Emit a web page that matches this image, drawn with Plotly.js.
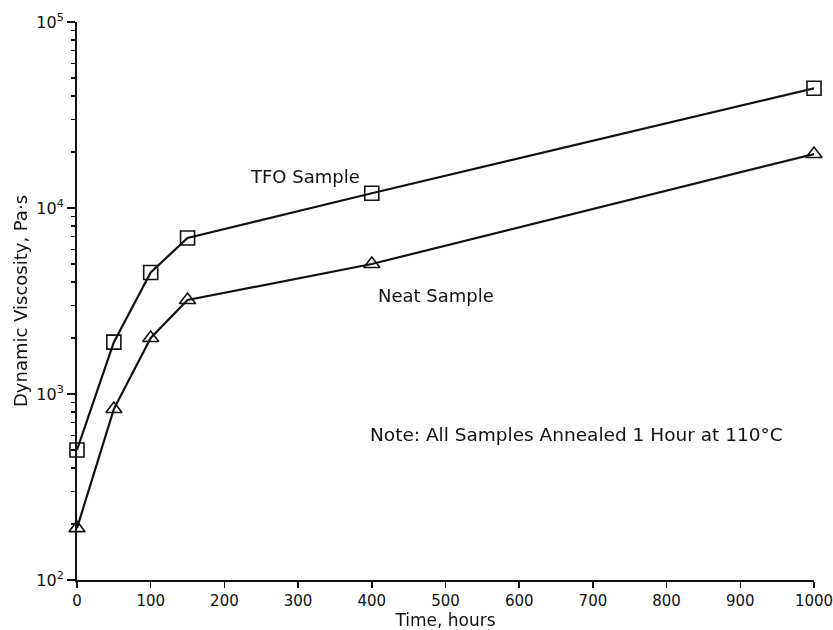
<!DOCTYPE html>
<html><head><meta charset="utf-8">
<script src="https://cdn.plot.ly/plotly-3.0.1.min.js"></script>
<style>html,body{margin:0;padding:0;background:#fff;}#c{width:833px;height:630px;}</style>
</head><body><div id="c"></div>
<script>
const timeHours = [0, 50, 100, 150, 400, 1000];
const tfoViscosity = [500, 1900, 4500, 6900, 12000, 44000];
const neatViscosity = [190, 830, 2000, 3200, 5000, 19500];
const yTickVals = [100, 1000, 10000, 100000];
const yTickText = ['10<sup>2</sup>', '10<sup>3</sup>', '10<sup>4</sup>', '10<sup>5</sup>'];
const minorDigits = [2, 3, 4, 5, 6, 7, 8, 9];
const decades = [100, 1000, 10000];

const minorVals = [];
decades.forEach(d => minorDigits.forEach(m => minorVals.push(d * m)));

const font = {family: 'DejaVu Sans, sans-serif', color: '#111'};
const traces = [
  {x: timeHours, y: tfoViscosity, mode: 'lines+markers', name: 'TFO Sample', cliponaxis: false,
   line: {color: '#111', width: 2.2},
   marker: {symbol: 'square-open', size: 14, color: '#111', line: {width: 1.6, color: '#111'}}},
  {x: timeHours, y: neatViscosity, mode: 'lines+markers', name: 'Neat Sample', cliponaxis: false,
   line: {color: '#111', width: 2.2},
   marker: {symbol: 'triangle-up-open', size: 14, color: '#111', line: {width: 1.6, color: '#111'}}},
  {x: timeHours, y: tfoViscosity, yaxis: 'y2', mode: 'markers', opacity: 0, hoverinfo: 'skip', showlegend: false,
   marker: {size: 1, color: '#fff'}}
];
const layout = {
  width: 833, height: 630,
  margin: {l: 77, r: 19, t: 22, b: 50},
  paper_bgcolor: '#fff', plot_bgcolor: '#fff',
  showlegend: false,
  font: Object.assign({size: 15}, font),
  xaxis: {range: [0, 1000], dtick: 100, tick0: 0, showgrid: false, zeroline: false,
    showline: true, linecolor: '#111', linewidth: 2, ticks: 'outside', ticklen: 6, tickwidth: 1.5, tickcolor: '#111',
    ticklabeloverflow: 'allow',
    tickfont: Object.assign({size: 15}, font),
    title: {text: 'Time, hours', font: Object.assign({size: 17}, font), standoff: 2}},
  yaxis: {type: 'log', range: [2, 5], tickmode: 'array', tickvals: yTickVals, ticktext: yTickText, showgrid: false, zeroline: false,
    showline: true, linecolor: '#111', linewidth: 2, ticks: 'outside', ticklen: 8, tickwidth: 1.5, tickcolor: '#111',
    tickfont: Object.assign({size: 16}, font),
    title: {text: 'Dynamic Viscosity, Pa·s', font: Object.assign({size: 18}, font), standoff: 4}},
  yaxis2: {type: 'log', range: [2, 5], overlaying: 'y', side: 'left', anchor: 'x', tickmode: 'array', tickvals: minorVals,
    showticklabels: false, showgrid: false, zeroline: false, showline: false,
    ticks: 'outside', ticklen: 5, tickwidth: 1.2, tickcolor: '#111'},
  annotations: [
    {x: 309, y: 4.172, xref: 'x', yref: 'y', text: 'TFO Sample', showarrow: false, font: Object.assign({size: 18}, font)},
    {x: 487, y: 3.527, xref: 'x', yref: 'y', text: 'Neat Sample', showarrow: false, font: Object.assign({size: 18}, font)},
    {x: 395, y: 2.78, xref: 'x', yref: 'y', xanchor: 'left', text: 'Note: All Samples Annealed 1 Hour at 110°C', showarrow: false, font: Object.assign({size: 18.5}, font)}
  ]
};
Plotly.newPlot('c', traces, layout, {staticPlot: true});
</script></body></html>
